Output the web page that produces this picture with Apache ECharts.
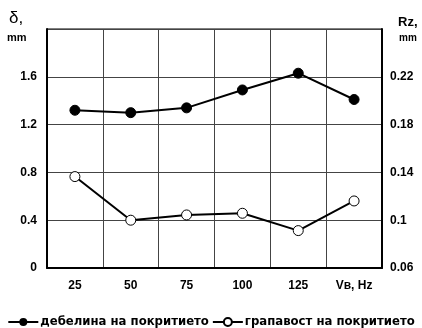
<!DOCTYPE html>
<html><head><meta charset="utf-8">
<script src="https://cdn.jsdelivr.net/npm/echarts@6/dist/echarts.min.js"></script>
<style>html,body{margin:0;padding:0;background:#fff}#c{width:422px;height:328px}</style>
</head><body><div id="c"></div>
<script>
var categories = ['25', '50', '75', '100', '125', 'Vв, Hz'];
var thickness = [1.32, 1.30, 1.34, 1.49, 1.63, 1.41];
var roughness = [0.1365, 0.100, 0.1044, 0.1058, 0.0913, 0.1161];
var leftTicks = [0, 0.4, 0.8, 1.2, 1.6];
var rightTicks = [0.06, 0.1, 0.14, 0.18, 0.22];
var seriesNames = ['дебелина на покритието', 'грапавост на покритието'];

var FONT = 'Liberation Sans, Arial, sans-serif';
var chart = echarts.init(document.getElementById('c'));
chart.setOption({
  animation: false,
  grid: { left: 47, right: 40, top: 29, bottom: 60, show: true, borderColor: '#000', borderWidth: 1 },
  xAxis: {
    type: 'category', data: categories, boundaryGap: true,
    axisLine: { lineStyle: { color: '#000', width: 2 } },
    axisTick: { show: false },
    axisLabel: { color: '#000', fontWeight: 'bold', fontSize: 12, fontFamily: FONT, margin: 12 },
    splitLine: { show: true, lineStyle: { color: '#444', width: 1 } }
  },
  yAxis: [{
    type: 'value', min: 0, max: 2, interval: 0.4, position: 'left',
    axisLine: { show: true, lineStyle: { color: '#000', width: 2 } },
    axisTick: { show: false },
    axisLabel: { color: '#000', fontWeight: 'bold', fontSize: 12, fontFamily: FONT, margin: 10,
      formatter: function (v) { var r = Math.round(v * 10) / 10; return leftTicks.indexOf(r) >= 0 ? String(r) : ''; } },
    splitLine: { show: true, lineStyle: { color: '#444', width: 1 } }
  }, {
    type: 'value', min: 0.06, max: 0.26, interval: 0.04, position: 'right',
    axisLine: { show: true, lineStyle: { color: '#000', width: 2 } },
    axisTick: { show: false },
    axisLabel: { color: '#000', fontWeight: 'bold', fontSize: 12, fontFamily: FONT, margin: 8,
      formatter: function (v) { var r = Math.round(v * 100) / 100; return rightTicks.indexOf(r) >= 0 ? String(r) : ''; } },
    splitLine: { show: false }
  }],
  legend: {
    bottom: 0, left: 'center', width: 422, padding: [0, 0, 0, 10], itemWidth: 30, itemHeight: 10, itemGap: 3,
    textStyle: { color: '#000', fontWeight: 'bold', fontSize: 11.7, fontFamily: 'DejaVu Sans, sans-serif', padding: [0, 0, 0, -3] },
    data: seriesNames
  },
  graphic: [
    { type: 'text', left: 9, top: 10, style: { text: 'δ,', font: '17px ' + FONT, fill: '#000' } },
    { type: 'text', left: 7, top: 32, style: { text: 'mm', font: 'bold 11px ' + FONT, fill: '#000' } },
    { type: 'text', left: 398, top: 16, style: { text: 'Rz,', font: 'bold 13px ' + FONT, fill: '#000' } },
    { type: 'text', left: 399, top: 33, style: { text: 'mm', font: 'bold 10px ' + FONT, fill: '#000' } }
  ],
  series: [{
    name: seriesNames[0], type: 'line', yAxisIndex: 0, data: thickness,
    symbol: 'circle', symbolSize: 10,
    itemStyle: { color: '#000', borderColor: '#000' },
    lineStyle: { color: '#000', width: 2 }
  }, {
    name: seriesNames[1], type: 'line', yAxisIndex: 1, data: roughness,
    symbol: 'circle', symbolSize: 10,
    itemStyle: { color: '#fff', borderColor: '#000', borderWidth: 1 },
    lineStyle: { color: '#000', width: 2 }
  }]
});
</script></body></html>
